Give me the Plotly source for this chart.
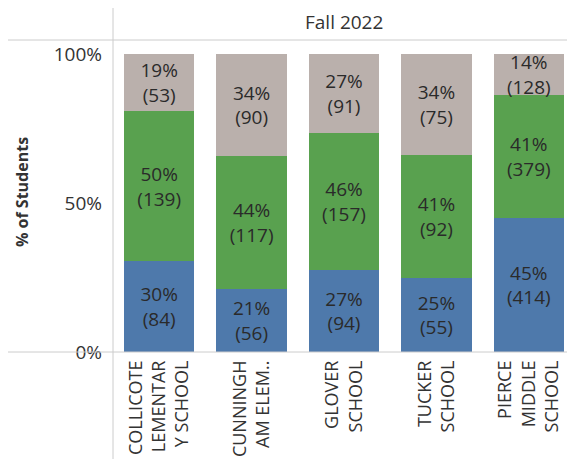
import plotly.graph_objects as go

schools = ["COLLICOTE<br>LEMENTAR<br>Y SCHOOL", "CUNNINGH<br>AM ELEM..",
           "GLOVER<br>SCHOOL", "TUCKER<br>SCHOOL", "PIERCE<br>MIDDLE<br>SCHOOL"]
cnt_blue = [84, 56, 94, 55, 414]
cnt_green = [139, 117, 157, 92, 379]
cnt_grey = [53, 90, 91, 75, 128]
series_names = ["Level 1", "Level 2", "Level 3"]
colors = ["#4e79ab", "#59a14f", "#bab0ac"]
header = "Fall 2022"
y_ticks = [0, 0.5, 1.0]
y_ticklabels = ["0%", "50%", "100%"]

totals = [a + b + c for a, b, c in zip(cnt_blue, cnt_green, cnt_grey)]

# page body has an 8px default margin; work in screen pixels and offset
OFF = 8
W, H = 575 - OFF, 459 - OFF
ML, MR, MT, MB = 113 - OFF, 0, 54 - OFF, 459 - 352
PW, PH = W - ML - MR, H - MT - MB

def px2paper_x(px):
    return (px - OFF - ML) / PW

def px2paper_y(py):
    return (H - MB - (py - OFF)) / PH

fig = go.Figure()
for name, cnts, col in zip(series_names, [cnt_blue, cnt_green, cnt_grey], colors):
    shares = [c / t for c, t in zip(cnts, totals)]
    labels = [f"{round(s * 100):.0f}%<br>({c})" for s, c in zip(shares, cnts)]
    fig.add_trace(go.Bar(
        x=schools, y=shares, name=name, marker_color=col, marker_line_width=0,
        text=labels, textposition="inside", insidetextanchor="middle",
        textangle=0, constraintext="none",
        textfont=dict(family="Open Sans", size=19, color="#2a2a2a"),
        hoverinfo="skip",
    ))

fig.update_layout(
    barmode="stack", bargap=0.24, width=W, height=H,
    margin=dict(l=ML, r=MR, t=MT, b=MB, pad=0),
    plot_bgcolor="white", paper_bgcolor="white", showlegend=False,
    font=dict(family="Open Sans", color="#333333"),
)
fig.update_yaxes(range=[0, 1], tickvals=y_ticks, ticktext=y_ticklabels,
                 showgrid=False, zeroline=False, showline=False,
                 ticklabelstandoff=10, tickfont=dict(size=19, color="#333333"))
fig.update_xaxes(tickangle=-90, showgrid=False, showline=False, zeroline=False,
                 ticklabelstandoff=4, tickfont=dict(size=18, color="#333333"))

line = dict(color="#cccccc", width=1)
fig.add_shape(type="line", xref="paper", yref="paper", x0=0, x1=0,
              y0=px2paper_y(470), y1=px2paper_y(0), line=line)
fig.add_shape(type="line", xref="paper", yref="paper", x0=px2paper_x(0), x1=1,
              y0=px2paper_y(40), y1=px2paper_y(40), line=line)
fig.add_shape(type="line", xref="paper", yref="paper", x0=px2paper_x(0), x1=1,
              y0=0, y1=0, line=line)

fig.add_annotation(text=header, xref="paper", yref="paper", x=0.5, y=px2paper_y(22),
                   xanchor="center", yanchor="middle",
                   showarrow=False, font=dict(size=19, color="#333333"))
fig.add_annotation(text="<b>% of Students</b>", xref="paper", yref="paper",
                   x=px2paper_x(22), y=px2paper_y(192), textangle=-90,
                   xanchor="center", yanchor="middle",
                   showarrow=False, font=dict(size=16, color="#333333"))

fig.write_html("out.html")
